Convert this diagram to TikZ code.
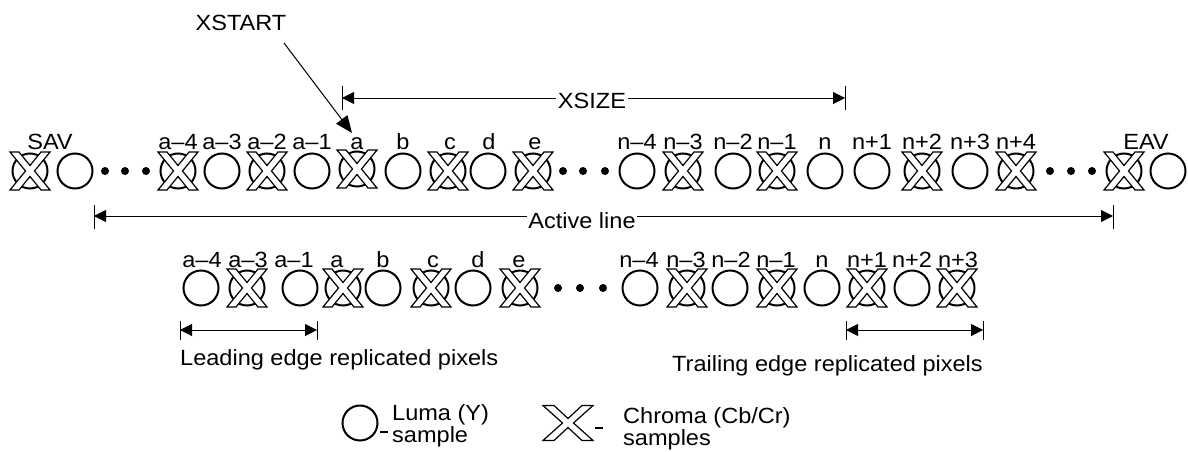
\documentclass[tikz,border=0pt]{standalone}
\usepackage{fontspec}
\setmainfont{Liberation Sans}[FakeStretch=1.07]
\usetikzlibrary{arrows.meta}
\begin{document}
\begin{tikzpicture}[x=1pt,y=-1pt,
  sym/.style={line width=2pt},
  xsym/.style={line width=1.2pt, fill=white, line join=miter},
  lab/.style={font=\fontsize{22}{22}\selectfont, inner sep=0pt, anchor=base},
  dimtext/.style={font=\fontsize{22}{22}\selectfont, inner sep=1.5pt, anchor=base, fill=white},
  tip/.tip={Triangle[length=12pt,width=12pt]},
  dimline/.style={line width=1pt, tip-tip},
  tickline/.style={line width=1pt},
  dotc/.style={circle, fill=black, inner sep=0pt, minimum size=8pt},
  luma/.pic={\draw[sym] (0,0) circle (17.5);},
  chroma/.pic={\draw[sym] (0,0) circle (17.5);
    \draw[xsym] (-20,-19) -- (-11,-19) -- (0,-5.5) -- (11,-19) -- (20,-19) -- (4.5,0)
      -- (20,19) -- (11,19) -- (0,5.5) -- (-11,19) -- (-20,19) -- (-4.5,0) -- cycle;},
  bigx/.pic={\draw[xsym] (-25,-17.5) -- (-14,-17.5) -- (0,-4.5) -- (14,-17.5) -- (25,-17.5) -- (5.5,0)
      -- (25,17.5) -- (14,17.5) -- (0,4.5) -- (-14,17.5) -- (-25,17.5) -- (-5.5,0) -- cycle;},
]
\path[use as bounding box] (0,0) rectangle (1188,452);

% ---------- top row ----------
\pic (t1) at (30,171) {chroma};
\pic (t2) at (75,171) {luma};
\node[dotc] (td1) at (105,171) {};
\node[dotc] (td2) at (125,171) {};
\node[dotc] (td3) at (146,171) {};
\pic (t3) at (178,171) {chroma};
\pic (t4) at (222,171) {luma};
\pic (t5) at (267,171) {chroma};
\pic (t6) at (312,171) {luma};
\pic (t7) at (357,169) {chroma};
\pic (t8) at (403,171) {luma};
\pic (t9) at (448,171) {chroma};
\pic (t10) at (488,171) {luma};
\pic (t11) at (533,171) {chroma};
\node[dotc] (td4) at (563,171) {};
\node[dotc] (td5) at (583,171) {};
\node[dotc] (td6) at (605,171) {};
\pic (t12) at (637,171) {luma};
\pic (t13) at (683,171) {chroma};
\pic (t14) at (733,171) {luma};
\pic (t15) at (777,171) {chroma};
\pic (t16) at (825,171) {luma};
\pic (t17) at (872,171) {luma};
\pic (t18) at (922,171) {chroma};
\pic (t19) at (970,171) {luma};
\pic (t20) at (1016,171) {chroma};
\node[dotc] (td7) at (1050,171) {};
\node[dotc] (td8) at (1071,171) {};
\node[dotc] (td9) at (1092,171) {};
\pic (t21) at (1124,171) {chroma};
\pic (t22) at (1168,171) {luma};

% top labels
\node[lab] (lsav) at (50,149) {SAV};
\node[lab] (lt3) at (178,149) {a–4};
\node[lab] (lt4) at (222,149) {a–3};
\node[lab] (lt5) at (267,149) {a–2};
\node[lab] (lt6) at (312,149) {a–1};
\node[lab] (lt7) at (357,149) {a};
\node[lab] (lt8) at (403,149) {b};
\node[lab] (lt9) at (450,149) {c};
\node[lab] (lt10) at (489,149) {d};
\node[lab] (lt11) at (535,149) {e};
\node[lab] (lt12) at (637,149) {n–4};
\node[lab] (lt13) at (683,149) {n–3};
\node[lab] (lt14) at (733,149) {n–2};
\node[lab] (lt15) at (777,149) {n–1};
\node[lab] (lt16) at (825,149) {n};
\node[lab] (lt17) at (872,149) {n+1};
\node[lab] (lt18) at (922,149) {n+2};
\node[lab] (lt19) at (970,149) {n+3};
\node[lab] (lt20) at (1016,149) {n+4};
\node[lab] (leav) at (1146,149) {EAV};

% XSTART
\node[lab] (xstart) at (241,31) {XSTART};
\coordinate (xsa) at (284,43);
\coordinate (xsb) at (352,133);
\draw[line width=1pt, -{Triangle[length=17pt,width=14pt]}] (xsa) -- (xsb);

% XSIZE
\coordinate (xz1) at (342,98);
\coordinate (xz2) at (845,98);
\draw[tickline] (342,86) -- (342,110);
\draw[tickline] (845,86) -- (845,110);
\draw[dimline] (xz1) -- (xz2);
\node[dimtext] (xsize) at (592,108) {XSIZE};

% Active line
\coordinate (al1) at (94,216);
\coordinate (al2) at (1113,216);
\draw[tickline] (94,205) -- (94,229);
\draw[tickline] (1113,205) -- (1113,229);
\draw[dimline] (al1) -- (al2);
\node[dimtext] (active) at (582,228) {Active line};

% ---------- bottom row ----------
\pic (b1) at (201,288) {luma};
\pic (b2) at (247,288) {chroma};
\pic (b3) at (300,288) {luma};
\pic (b4) at (343,288) {chroma};
\pic (b5) at (383,288) {luma};
\pic (b6) at (431,288) {chroma};
\pic (b7) at (473,288) {luma};
\pic (b8) at (520,288) {chroma};
\node[dotc] (bd1) at (558,288) {};
\node[dotc] (bd2) at (580,288) {};
\node[dotc] (bd3) at (603,288) {};
\pic (b9) at (640,288) {luma};
\pic (b10) at (687,288) {chroma};
\pic (b11) at (730,288) {luma};
\pic (b12) at (777,288) {chroma};
\pic (b13) at (822,288) {luma};
\pic (b14) at (867,288) {chroma};
\pic (b15) at (912,288) {luma};
\pic (b16) at (957,288) {chroma};

\node[lab] (lb1) at (202,267) {a–4};
\node[lab] (lb2) at (248,267) {a–3};
\node[lab] (lb3) at (294,267) {a–1};
\node[lab] (lb4) at (337,267) {a};
\node[lab] (lb5) at (383,267) {b};
\node[lab] (lb6) at (433,267) {c};
\node[lab] (lb7) at (478,267) {d};
\node[lab] (lb8) at (519,267) {e};
\node[lab] (lb9) at (639,267) {n–4};
\node[lab] (lb10) at (686,267) {n–3};
\node[lab] (lb11) at (731,267) {n–2};
\node[lab] (lb12) at (776,267) {n–1};
\node[lab] (lb13) at (822,267) {n};
\node[lab] (lb14) at (867,267) {n+1};
\node[lab] (lb15) at (912,267) {n+2};
\node[lab] (lb16) at (958,267) {n+3};

% Leading / trailing
\coordinate (le1) at (180,330);
\coordinate (le2) at (317,330);
\draw[tickline] (180,321) -- (180,340);
\draw[tickline] (317,321) -- (317,340);
\draw[dimline] (le1) -- (le2);
\node[lab, anchor=base west] (lead) at (180,365) {Leading edge replicated pixels};

\coordinate (tr1) at (846,330);
\coordinate (tr2) at (983,330);
\draw[tickline] (846,321) -- (846,340);
\draw[tickline] (983,321) -- (983,340);
\draw[dimline] (tr1) -- (tr2);
\node[lab, anchor=base west] (trail) at (672,371) {Trailing edge replicated pixels};

% ---------- legend ----------
\pic (kl) at (360,423) {luma};
\draw[line width=1.5pt] (380,432) -- (388,432);
\node[lab, anchor=base west] (luma1) at (392,420) {Luma (Y)};
\node[lab, anchor=base west] (luma2) at (392,442) {sample};

\pic (kc) at (568,423) {bigx};
\draw[line width=1.5pt] (595,428) -- (603,428);
\node[lab, anchor=base west] (chr1) at (623,423) {Chroma (Cb/Cr)};
\node[lab, anchor=base west] (chr2) at (623,445) {samples};
\end{tikzpicture}
\end{document}
